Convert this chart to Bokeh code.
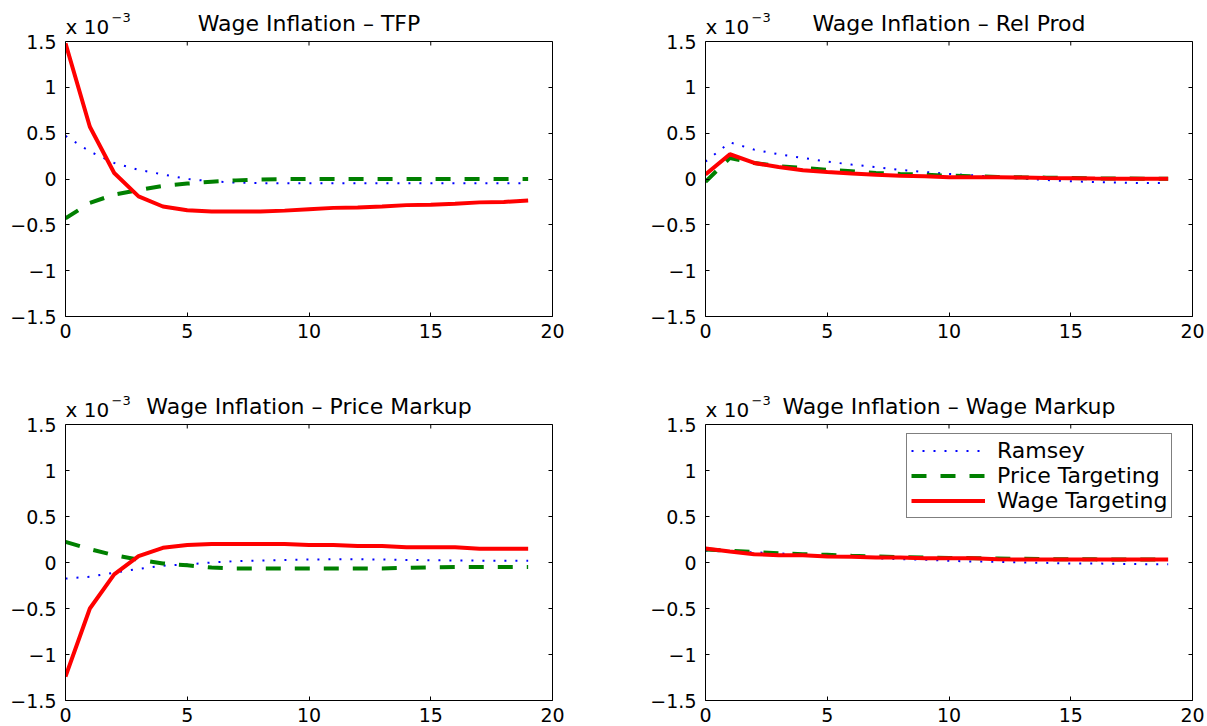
from bokeh.plotting import figure
from bokeh.models import (Label, LinearAxis, FixedTicker, CustomJSTickFormatter,
                          Range1d, Span)
from bokeh.layouts import column, row
from bokeh.embed import file_html
from bokeh.resources import INLINE

# ---- data (values in units of 1e-3) ----
t = list(range(20))

titles = ["Wage Inflation \u2013 TFP", "Wage Inflation \u2013 Rel Prod",
          "Wage Inflation \u2013 Price Markup", "Wage Inflation \u2013 Wage Markup"]
series_names = ["Ramsey", "Price Targeting", "Wage Targeting"]
scale_text = "x 10"
scale_exp = "\u22123"

ramsey_tfp = [0.47, 0.30, 0.175, 0.10, 0.05, 0.0, -0.025, -0.04, -0.045, -0.045,
              -0.045, -0.045, -0.045, -0.045, -0.045, -0.045, -0.045, -0.045, -0.045, -0.045]
price_tfp = [-0.43, -0.26, -0.17, -0.12, -0.075, -0.05, -0.03, -0.015, -0.005, 0.0,
             0.0, 0.0, 0.0, 0.0, 0.0, 0.0, 0.0, 0.0, 0.0, 0.0]
wage_tfp = [1.48, 0.57, 0.065, -0.19, -0.30, -0.34, -0.355, -0.355, -0.355, -0.345,
            -0.33, -0.315, -0.31, -0.30, -0.285, -0.28, -0.27, -0.255, -0.25, -0.235]

ramsey_rp = [0.19, 0.40, 0.32, 0.27, 0.23, 0.19, 0.157, 0.13, 0.10, 0.077,
             0.055, 0.04, 0.022, 0.004, -0.011, -0.025, -0.033, -0.04, -0.044, -0.044]
price_rp = [-0.03, 0.23, 0.175, 0.14, 0.12, 0.10, 0.085, 0.065, 0.055, 0.047,
            0.036, 0.03, 0.022, 0.018, 0.015, 0.01, 0.006, 0.005, 0.004, 0.003]
wage_rp = [0.05, 0.27, 0.175, 0.13, 0.095, 0.077, 0.06, 0.047, 0.036, 0.03,
           0.02, 0.02, 0.018, 0.016, 0.01, 0.008, 0.005, 0.004, 0.003, 0.003]

ramsey_pm = [-0.175, -0.155, -0.11, -0.07, -0.035, -0.02, 0.0, 0.015, 0.022, 0.028,
             0.033, 0.035, 0.035, 0.033, 0.028, 0.025, 0.022, 0.02, 0.02, 0.02]
price_pm = [0.225, 0.145, 0.08, 0.03, -0.01, -0.03, -0.055, -0.065, -0.065, -0.065,
            -0.065, -0.065, -0.065, -0.065, -0.058, -0.052, -0.05, -0.05, -0.05, -0.05]
wage_pm = [-1.24, -0.50, -0.13, 0.07, 0.16, 0.19, 0.20, 0.20, 0.20, 0.20,
           0.19, 0.19, 0.18, 0.18, 0.165, 0.165, 0.165, 0.15, 0.15, 0.15]

ramsey_wm = [0.127, 0.12, 0.11, 0.10, 0.084, 0.073, 0.062, 0.047, 0.036, 0.03,
             0.018, 0.011, 0.007, 0.0, -0.004, -0.011, -0.011, -0.015, -0.018, -0.018]
price_wm = [0.14, 0.127, 0.113, 0.10, 0.09, 0.084, 0.073, 0.065, 0.058, 0.055,
            0.05, 0.047, 0.044, 0.04, 0.037, 0.035, 0.034, 0.033, 0.033, 0.033]
wage_wm = [0.153, 0.12, 0.09, 0.08, 0.078, 0.065, 0.063, 0.055, 0.053, 0.047,
           0.047, 0.046, 0.036, 0.033, 0.033, 0.033, 0.033, 0.033, 0.033, 0.033]

x_ticks = [0, 5, 10, 15, 20]
y_ticks = [-1.5, -1, -0.5, 0, 0.5, 1, 1.5]
Y_MIN, Y_MAX = -1.5, 1.5

FONT = "DejaVu Sans"
minus_fmt = "return tick < 0 ? '\\u2212' + Math.abs(tick) : tick.toString();"


def style_axis(ax, labels=True, standoff=8):
    ax.axis_line_color = "black"
    ax.axis_line_width = 1
    ax.major_tick_in = 4
    ax.major_tick_out = 0
    ax.minor_tick_line_color = None
    ax.major_tick_line_color = "black"
    ax.major_label_text_font = FONT
    ax.major_label_text_font_size = "19px"
    ax.major_label_text_color = "black"
    ax.major_label_standoff = standoff
    if labels:
        ax.formatter = CustomJSTickFormatter(code=minus_fmt)
    else:
        ax.formatter = CustomJSTickFormatter(code="return '';")
        ax.major_label_standoff = 0


def make_fig(w, h, bl, br, bt, bb, box_px, head_px, title, ys, legend=False):
    # frame holds the box (box_px tall) plus a header strip (head_px) for the texts
    span = Y_MAX - Y_MIN
    y_top = Y_MAX + span * head_px / box_px
    p = figure(width=w, height=h, x_range=Range1d(0, 20), y_range=Range1d(Y_MIN, y_top),
               output_backend="svg", toolbar_location=None,
               min_border_left=bl, min_border_right=br,
               min_border_top=bt, min_border_bottom=bb)
    p.xgrid.visible = False
    p.ygrid.visible = False
    p.outline_line_color = None
    p.background_fill_color = "white"
    p.border_fill_color = "white"

    p.xaxis.ticker = FixedTicker(ticks=x_ticks)
    p.yaxis.ticker = FixedTicker(ticks=y_ticks)
    p.yaxis.bounds = (Y_MIN, Y_MAX)
    style_axis(p.xaxis[0], True, 7)
    style_axis(p.yaxis[0], True, 9)

    right = LinearAxis(ticker=FixedTicker(ticks=y_ticks), bounds=(Y_MIN, Y_MAX))
    style_axis(right, False)
    p.add_layout(right, "right")

    # top edge of the box and its inward ticks
    p.add_layout(Span(location=Y_MAX, dimension="width", line_color="black", line_width=1))
    tick_len = span * 4 / box_px
    p.segment(x0=x_ticks, y0=[Y_MAX] * len(x_ticks), x1=x_ticks,
              y1=[Y_MAX - tick_len] * len(x_ticks), line_color="black", line_width=1)

    r, pr, wg = ys
    p.line(t, r, line_color="#0000ff", line_width=2, line_dash="2 9",
           **({"legend_label": series_names[0]} if legend else {}))
    p.line(t, pr, line_color="#008000", line_width=4, line_dash="15 14",
           **({"legend_label": series_names[1]} if legend else {}))
    p.line(t, wg, line_color="#ff0000", line_width=4,
           **({"legend_label": series_names[2]} if legend else {}))

    p.add_layout(Label(x=10, y=Y_MAX, y_offset=18, text=title, text_align="center",
                       text_baseline="alphabetic", text_font=FONT,
                       text_font_size="22px", text_color="black"))
    p.add_layout(Label(x=0, y=Y_MAX, x_offset=0, y_offset=15, text=scale_text,
                       text_align="left", text_baseline="alphabetic", text_font=FONT,
                       text_font_size="20px", text_color="black"))
    p.add_layout(Label(x=0, y=Y_MAX, x_offset=46, y_offset=24, text=scale_exp,
                       text_align="left", text_baseline="alphabetic", text_font=FONT,
                       text_font_size="13px", text_color="black"))

    if legend:
        lg = p.legend[0]
        lg.padding = 4
        lg.spacing = 0
        lg.glyph_width = 74
        lg.glyph_height = 25
        lg.label_height = 25
        lg.label_standoff = 12
        lg.label_text_font = FONT
        lg.label_text_font_size = "22px"
        lg.label_text_color = "black"
        lg.border_line_color = "black"
        lg.border_line_width = 1
        lg.background_fill_color = "white"
        lg.background_fill_alpha = 1
        lg.margin = 0
        # box: 16 px in from the right edge, 11 px below the top edge of the axes box
        lg.location = (w - bl - br - 16 - 270, box_px - 11 - 83)
    return p


# top row: frame top at y=5, box from y=41 to y=316
p1 = make_fig(630, 370, 65, 78, 5, 54, 275, 36, titles[0], (ramsey_tfp, price_tfp, wage_tfp))
p2 = make_fig(577, 370, 75, 15, 5, 54, 275, 36, titles[1], (ramsey_rp, price_rp, wage_rp))
# bottom row: frame top at y=370, box from y=424 to y=700
p3 = make_fig(630, 356, 65, 78, 0, 26, 276, 54, titles[2], (ramsey_pm, price_pm, wage_pm))
p4 = make_fig(577, 356, 75, 15, 0, 26, 276, 54, titles[3], (ramsey_wm, price_wm, wage_wm),
              legend=True)

layout = column(row(p1, p2, spacing=0), row(p3, p4, spacing=0), spacing=0)

open("out.html", "w").write(file_html(layout, INLINE))
